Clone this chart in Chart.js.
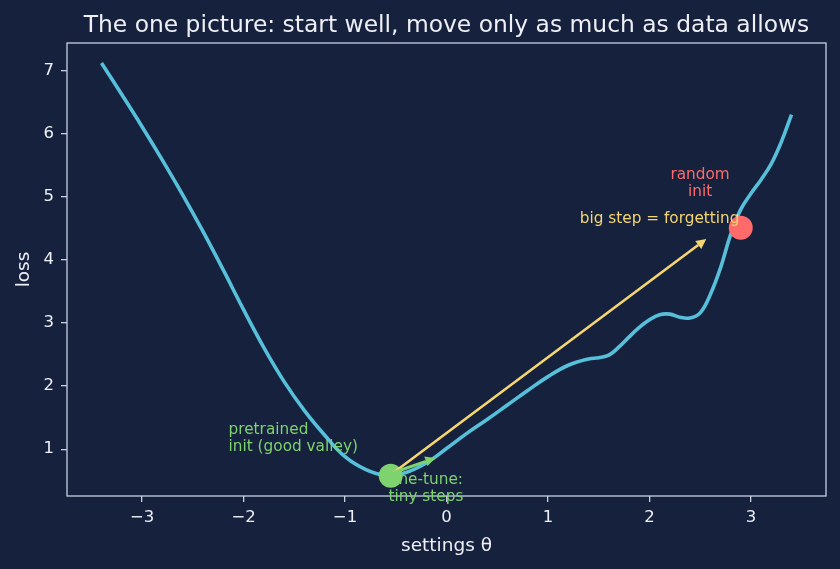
<!DOCTYPE html>
<html>
<head>
<meta charset="utf-8">
<script src="https://cdn.jsdelivr.net/npm/chart.js@4/dist/chart.umd.min.js"></script>
<style>
html,body{margin:0;padding:0;background:#16213e;}
#wrap{width:840px;height:569px;}
</style>
</head>
<body>
<div id="wrap"><canvas id="c" width="840" height="569"></canvas></div>
<script>
// ---- data ----
const thetaValues = [-3.4, -3.2, -3.0, -2.8, -2.6, -2.4, -2.2, -2.0, -1.8, -1.6, -1.4, -1.2, -1.0, -0.8, -0.6, -0.4, -0.2, 0.0, 0.2, 0.4, 0.6, 0.8, 1.0, 1.2, 1.4, 1.5, 1.6, 1.7, 1.8, 1.9, 2.0, 2.1, 2.2, 2.3, 2.4, 2.5, 2.6, 2.7, 2.8, 2.9, 3.0, 3.1, 3.2, 3.3, 3.4];
const lossValues  = [7.12, 6.62, 6.11, 5.58, 5.03, 4.45, 3.84, 3.21, 2.61, 2.07, 1.61, 1.22, 0.88, 0.68, 0.585, 0.63, 0.78, 1.01, 1.25, 1.47, 1.70, 1.93, 2.15, 2.33, 2.43, 2.45, 2.49, 2.62, 2.78, 2.93, 3.05, 3.13, 3.14, 3.09, 3.08, 3.16, 3.45, 3.87, 4.40, 4.80, 5.05, 5.27, 5.52, 5.87, 6.30];
const pretrainedPoint = [-0.55, 0.58];
const randomPoint = [2.90, 4.51];
const bigStepArrow = [-0.52, 0.63, 2.56, 4.33];
const fineTuneArrow = [-0.52, 0.63, -0.11, 0.86];
const xTickValues = [-3, -2, -1, 0, 1, 2, 3];
const yTickValues = [1, 2, 3, 4, 5, 6, 7];
const titleText = 'The one picture: start well, move only as much as data allows';
const xLabel = 'settings θ';
const yLabel = 'loss';

const BG = '#16213e';
const FG = '#eef0f5';
const AXIS = '#c9d0e3';
const CURVE = '#56c0da';
const GREEN = '#7ed36f';
const RED = '#ff6b6b';
const YELLOW = '#f5d670';
const FONT = "'DejaVu Sans', 'Liberation Sans', sans-serif";

const fmt = v => (v < 0 ? '\u2212' + Math.abs(v) : String(v));

const decor = {
  id: 'decor',
  beforeDraw(chart) {
    const ctx = chart.ctx;
    ctx.save();
    ctx.fillStyle = BG;
    ctx.fillRect(0, 0, chart.width, chart.height);
    ctx.restore();
  },
  beforeDatasetsDraw(chart) {
    const {ctx, chartArea: a} = chart;
    ctx.save();
    ctx.strokeStyle = AXIS;
    ctx.lineWidth = 1.3;
    ctx.strokeRect(a.left, a.top, a.right - a.left, a.bottom - a.top);
    ctx.restore();
  },
  afterDatasetsDraw(chart) {
    const {ctx, scales: {x, y}, chartArea: a} = chart;
    const arrow = (arr, color, width, hl, hw) => {
      const x0 = x.getPixelForValue(arr[0]), y0 = y.getPixelForValue(arr[1]);
      const x1 = x.getPixelForValue(arr[2]), y1 = y.getPixelForValue(arr[3]);
      const ang = Math.atan2(y1 - y0, x1 - x0);
      const bx = x1 - hl * Math.cos(ang), by = y1 - hl * Math.sin(ang);
      ctx.save();
      ctx.strokeStyle = color; ctx.fillStyle = color;
      ctx.lineWidth = width; ctx.lineCap = 'butt';
      ctx.beginPath(); ctx.moveTo(x0, y0); ctx.lineTo(bx, by); ctx.stroke();
      ctx.beginPath();
      ctx.moveTo(x1, y1);
      ctx.lineTo(bx + hw * Math.sin(ang), by - hw * Math.cos(ang));
      ctx.lineTo(bx - hw * Math.sin(ang), by + hw * Math.cos(ang));
      ctx.closePath(); ctx.fill();
      ctx.restore();
    };
    arrow(bigStepArrow, YELLOW, 2.6, 10, 5);
    arrow(fineTuneArrow, GREEN, 3, 10, 5);

    const text = (lines, dx, dy, color, align) => {
      ctx.save();
      ctx.font = '15.3px ' + FONT;
      ctx.fillStyle = color;
      ctx.textAlign = align;
      ctx.textBaseline = 'alphabetic';
      const px = x.getPixelForValue(dx), py = y.getPixelForValue(dy);
      lines.forEach((t, i) => ctx.fillText(t, px, py + i * 17));
      ctx.restore();
    };
    text(['pretrained', 'init (good valley)'], -2.148, 1.243, GREEN, 'left');
    text(['fine-tune:', 'tiny steps'], -0.203, 0.453, GREEN, 'center');
    text(['random', 'init'], 2.499, 5.281, RED, 'center');
    text(['big step = forgetting'], 2.10, 4.587, YELLOW, 'center');

    // title
    ctx.save();
    ctx.font = '23.4px ' + FONT;
    ctx.fillStyle = FG;
    ctx.textAlign = 'center';
    ctx.textBaseline = 'alphabetic';
    ctx.fillText(titleText, (a.left + a.right) / 2, 32);
    ctx.restore();
  }
};

new Chart(document.getElementById('c'), {
  type: 'scatter',
  data: {
    datasets: [
      {
        label: 'pretrained init',
        data: [{x: pretrainedPoint[0], y: pretrainedPoint[1]}],
        backgroundColor: GREEN, borderWidth: 0, pointRadius: 12, pointHoverRadius: 12
      },
      {
        label: 'random init',
        data: [{x: randomPoint[0], y: randomPoint[1]}],
        backgroundColor: RED, borderWidth: 0, pointRadius: 12, pointHoverRadius: 12
      },
      {
        label: 'loss',
        data: thetaValues.map((t, i) => ({x: t, y: lossValues[i]})),
        showLine: true,
        borderColor: CURVE,
        borderWidth: 3.6,
        pointRadius: 0,
        pointHoverRadius: 0,
        tension: 0.4,
        fill: false
      }
    ]
  },
  options: {
    responsive: false,
    animation: false,
    devicePixelRatio: 1,
    layout: {padding: {left: 0, right: 14, top: 43, bottom: 0}},
    plugins: {legend: {display: false}, tooltip: {enabled: false}, title: {display: false}},
    scales: {
      x: {
        type: 'linear', position: 'bottom',
        min: -3.74, max: 3.74,
        afterBuildTicks: s => { s.ticks = xTickValues.map(v => ({value: v})); },
        afterFit: s => { s.height = 73; },
        ticks: {color: FG, font: {family: FONT, size: 16.5}, padding: 6, maxRotation: 0, callback: v => fmt(v)},
        grid: {display: true, drawOnChartArea: false, drawTicks: true, tickLength: 6, color: AXIS, lineWidth: 1.3},
        border: {display: false},
        title: {display: true, text: xLabel, color: FG, font: {family: FONT, size: 18.5}, padding: {top: 0, bottom: 12}}
      },
      y: {
        type: 'linear', position: 'left',
        min: 0.258, max: 7.436,
        afterBuildTicks: s => { s.ticks = yTickValues.map(v => ({value: v})); },
        afterFit: s => { s.width = 67; },
        ticks: {color: FG, font: {family: FONT, size: 16.5}, padding: 7, callback: v => fmt(v)},
        grid: {display: true, drawOnChartArea: false, drawTicks: true, tickLength: 6, color: AXIS, lineWidth: 1.3},
        border: {display: false},
        title: {display: true, text: yLabel, color: FG, font: {family: FONT, size: 18.5}, padding: {top: 13, bottom: 0}}
      }
    }
  },
  plugins: [decor]
});
</script>
</body>
</html>
